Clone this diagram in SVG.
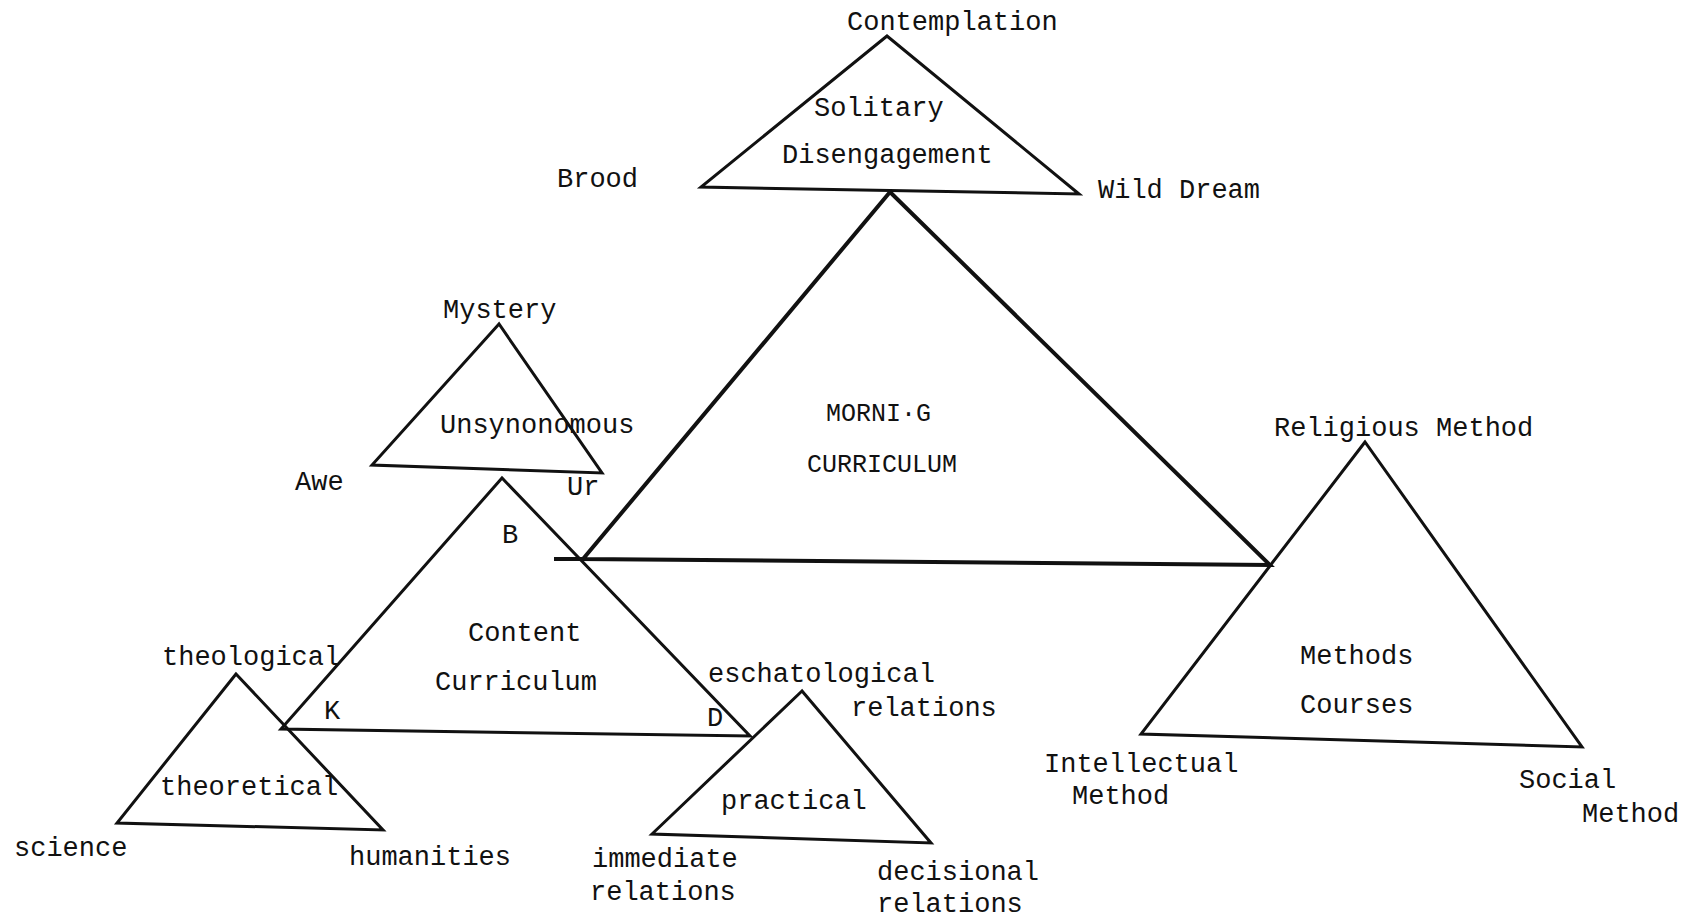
<svg xmlns="http://www.w3.org/2000/svg" width="1692" height="918" viewBox="0 0 1692 918">
<style>
  .tri { fill: none; stroke: #111; stroke-width: 3; stroke-linejoin: miter; }
  .big { stroke-width: 4; }
  .lbl { font-family: "Liberation Mono", "DejaVu Sans Mono", monospace; font-size: 27px; fill: #111; }
  .sm { font-size: 25px; }
</style>
<rect width="1692" height="918" fill="#fff"/>

<g id="connectors">
  <line class="tri big" x1="554" y1="559" x2="583" y2="559"/>
</g>

<g id="node-solitary">
  <polygon class="tri" points="887,36 701,187 1079,194"/>
  <text class="lbl" x="847" y="30">Contemplation</text>
  <text class="lbl" x="814" y="116">Solitary</text>
  <text class="lbl" x="782" y="163">Disengagement</text>
  <text class="lbl" x="557" y="187">Brood</text>
  <text class="lbl" x="1098" y="198">Wild Dream</text>
</g>

<g id="node-morning">
  <polygon class="tri big" points="890,192 583,559 1270,565"/>
  <text class="lbl sm" x="826" y="421">MORNI·G</text>
  <text class="lbl sm" x="807" y="472">CURRICULUM</text>
</g>

<g id="node-mystery">
  <polygon class="tri" points="499,324 372,465 602,473"/>
  <text class="lbl" x="443" y="318">Mystery</text>
  <text class="lbl" x="440" y="433">Unsynonomous</text>
  <text class="lbl" x="295" y="490">Awe</text>
  <text class="lbl" x="567" y="495">Ur</text>
</g>

<g id="node-content">
  <polygon class="tri" points="502,478 281,729 750,736"/>
  <text class="lbl" x="502" y="543">B</text>
  <text class="lbl" x="468" y="641">Content</text>
  <text class="lbl" x="435" y="690">Curriculum</text>
  <text class="lbl" x="324" y="719">K</text>
  <text class="lbl" x="707" y="726">D</text>
</g>

<g id="node-theoretical">
  <polygon class="tri" points="236,674 117,823 383,830"/>
  <text class="lbl" x="162" y="665">theological</text>
  <text class="lbl" x="160" y="795">theoretical</text>
  <text class="lbl" x="14" y="856">science</text>
  <text class="lbl" x="349" y="865">humanities</text>
</g>

<g id="node-practical">
  <polygon class="tri" points="802,691 652,834 931,843"/>
  <text class="lbl" x="708" y="682">eschatological</text>
  <text class="lbl" x="851" y="716">relations</text>
  <text class="lbl" x="721" y="809">practical</text>
  <text class="lbl" x="592" y="867">immediate</text>
  <text class="lbl" x="590" y="900">relations</text>
  <text class="lbl" x="877" y="880">decisional</text>
  <text class="lbl" x="877" y="912">relations</text>
</g>

<g id="node-methods">
  <polygon class="tri" points="1365,442 1141,734 1582,747"/>
  <text class="lbl" x="1274" y="436">Religious Method</text>
  <text class="lbl" x="1300" y="664">Methods</text>
  <text class="lbl" x="1300" y="713">Courses</text>
  <text class="lbl" x="1044" y="772">Intellectual</text>
  <text class="lbl" x="1072" y="804">Method</text>
  <text class="lbl" x="1519" y="788">Social</text>
  <text class="lbl" x="1582" y="822">Method</text>
</g>
</svg>
